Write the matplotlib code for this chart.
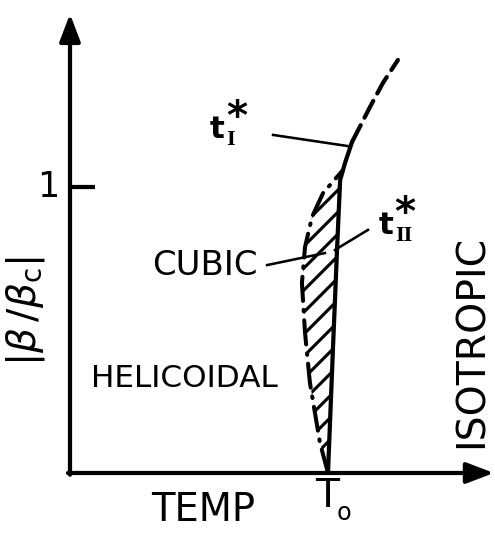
import matplotlib

matplotlib.use("Agg")
import matplotlib.pyplot as plt

# Phase boundaries: temperature in units of T0, field in units of |beta/beta_c|
iso_temp = [1.000, 1.019, 1.035, 1.047, 1.066, 1.093]
iso_beta = [0.000, 0.430, 0.780, 1.024, 1.084, 1.157]
iso_ext_temp = [1.093, 1.163, 1.213, 1.271]
iso_ext_beta = [1.157, 1.280, 1.364, 1.444]
cubic_temp = [1.000, 0.969, 0.930, 0.911, 0.899, 0.911, 0.938, 0.981, 1.058]
cubic_beta = [0.000, 0.105, 0.315, 0.490, 0.664, 0.790, 0.895, 0.979, 1.059]
# right edge of the cubic pocket (part of the isotropic boundary)
pocket_temp = [1.058, 1.047, 1.035, 1.019, 1.000]
pocket_beta = [1.059, 1.024, 0.780, 0.430, 0.000]

region_labels = ["CUBIC", "HELICOIDAL"]
tick_beta = 1.0

plt.rcParams["hatch.linewidth"] = 1.7
plt.rcParams["mathtext.fontset"] = "dejavusans"

DPI = 132
fig = plt.figure(figsize=(495 / DPI, 534 / DPI), dpi=DPI)
ax = fig.add_axes([0, 0, 1, 1])
ax.set_xlim(-0.2713, 1.6473)
ax.set_ylim(-0.2133, 1.6538)
ax.axis("off")

LW = 2.3
arrow = dict(arrowstyle="-|>,head_length=0.63,head_width=0.24", mutation_scale=20,
             lw=LW, color="black", shrinkA=0, shrinkB=0)
ax.annotate("", xy=(0, 1.605), xytext=(0, -0.006), arrowprops=arrow)
ax.annotate("", xy=(1.643, 0), xytext=(-0.008, 0), arrowprops=arrow)
ax.plot([0, 0.097], [tick_beta, tick_beta], color="black", lw=LW, solid_capstyle="butt")

# cubic pocket, hatched
ax.fill(cubic_temp + pocket_temp, cubic_beta + pocket_beta, facecolor="none",
        edgecolor="black", linewidth=0, hatch="//")
ax.plot(cubic_temp, cubic_beta, color="black", lw=2.2, linestyle=(0, (6, 2.2, 0.4, 2.2)),
        dash_capstyle="round")
ax.plot(iso_temp, iso_beta, color="black", lw=LW, solid_capstyle="round")
ax.plot(iso_ext_temp, iso_ext_beta, color="black", lw=LW, linestyle=(0, (4.5, 2)),
        dash_capstyle="round")

# leader lines
ax.plot([0.787, 1.078], [1.182, 1.143], color="black", lw=1.4)
ax.plot([0.764, 0.988], [0.727, 0.769], color="black", lw=1.4)
ax.plot([1.155, 1.027], [0.850, 0.780], color="black", lw=1.4)

font = dict(family="DejaVu Sans", color="black")
ax.text(0.523, 0.727, region_labels[0], fontsize=18.5, ha="center", va="center", **font)
ax.text(0.442, 0.332, region_labels[1], fontsize=17, ha="center", va="center", **font)
ax.text(1.558, 0.460, "ISOTROPIC", fontsize=21.5, rotation=90, ha="center", va="center", **font)
ax.text(0.515, -0.129, "TEMP", fontsize=21, ha="center", va="center", **font)
ax.text(0.998, -0.013, "T", fontsize=21.5, ha="center", va="top", **font)
ax.text(1.062, -0.140, "o", fontsize=13, ha="center", va="center", **font)
ax.text(-0.085, tick_beta, "1", fontsize=19, ha="center", va="center", **font)
ax.text(-0.174, 0.565, r"$|\beta\,/\beta_{\mathrm{c}}|$", fontsize=21.5, rotation=90,
        ha="center", va="center", **font)

# t_I* and t_II* labels
for x0, y0, sub in [(0.542, 1.173, "I"), (1.196, 0.836, "II")]:
    ax.text(x0, y0, "t", fontsize=17, fontweight="bold", ha="left", va="baseline", **font)
    ax.text(x0 + 0.064, y0 - 0.025, sub, fontsize=10, fontweight="bold", family="DejaVu Serif",
            ha="left", va="baseline", color="black")
    ax.text(x0 + 0.062, y0 + 0.030, "*", fontsize=22, fontweight="bold", ha="left",
            va="baseline", **font)

fig.savefig("out.png", dpi=DPI)
